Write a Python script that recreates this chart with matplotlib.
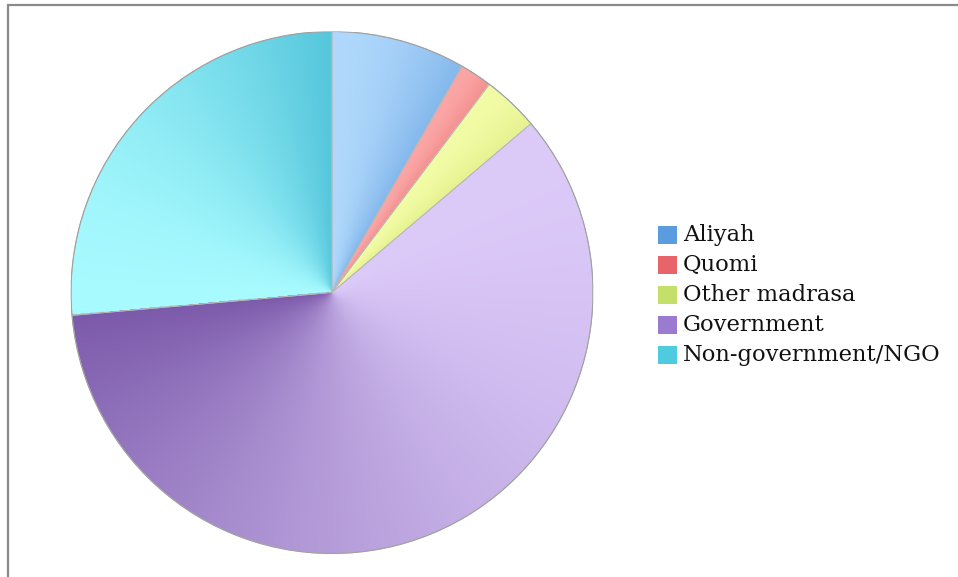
import numpy as np
import matplotlib
matplotlib.use("Agg")
from matplotlib import pyplot as plt
from matplotlib import colors as clrs
from matplotlib.patches import Rectangle, Circle

labels = ["Aliyah", "Quomi", "Other madrasa", "Government", "Non-government/NGO"]
shares = [8.3, 2.0, 3.5, 59.8, 26.4]
light = ["#b0d8fc", "#fba6a6", "#f2fca6", "#dccaf9", "#a8fbff"]
dark = ["#84b8ec", "#f49090", "#e6f290", "#7c5aab", "#55c6dc"]
legend_cols = ["#5b9be0", "#e8646a", "#c4e06a", "#9a7bd0", "#4fcbe0"]

fig = plt.figure(figsize=(9.58, 5.77), dpi=100)
W, H = 958, 577

# frame line on top and left (picture is cropped)
fig.patches.append(Rectangle((8 / W, -0.1), 1.2, 1 - 5 / H + 0.1, transform=fig.transFigure,
                             fill=False, edgecolor="#8a8a8a", linewidth=1.6))

cx, cy, r = 332, 292.5, 261
ax = fig.add_axes([(cx - r) / W, 1 - (cy + r) / H, 2 * r / W, 2 * r / H])
ax.axis("off")

wedges, _ = ax.pie(shares, startangle=90, counterclock=False, radius=1,
                   colors=light, wedgeprops=dict(linewidth=0.6, edgecolor="#b8b8b8"))
ax.set_xlim(-1, 1)
ax.set_ylim(-1, 1)

# conic gradient inside each slice: light at its start, darker at its end
n = 600
xs = np.linspace(-1, 1, n)
X, Y = np.meshgrid(xs, xs[::-1])
theta = np.degrees(np.arctan2(X, Y)) % 360
bounds = np.concatenate([[0], np.cumsum(shares) / sum(shares) * 360])
img = np.ones((n, n, 3))
for i in range(len(shares)):
    a0, a1 = bounds[i], bounds[i + 1]
    m = (theta >= a0) & (theta < a1)
    t = np.clip((theta - a0) / (a1 - a0), 0, 1)
    t = t ** 1.8
    c0 = np.array(clrs.to_rgb(light[i]))
    c1 = np.array(clrs.to_rgb(dark[i]))
    img[m] = c0 + (c1 - c0) * t[m][:, None]
im = ax.imshow(img, extent=(-1, 1, -1, 1), zorder=1.5, interpolation="bilinear")
im.set_clip_path(Circle((0, 0), 1, transform=ax.transData))
for w in wedges:
    w.set_facecolor("none")
    w.set_zorder(2)
ax.add_patch(Circle((0, 0), 1, fill=False, edgecolor="#a0a0a0", linewidth=0.8, zorder=3))

# legend
y0 = 235
for i, lab in enumerate(labels):
    yy = y0 + i * 30
    fig.patches.append(Rectangle((658 / W, 1 - (yy + 9) / H), 19 / W, 18 / H,
                                 transform=fig.transFigure, facecolor=legend_cols[i],
                                 edgecolor="none"))
    fig.text(683 / W, 1 - yy / H, lab, fontsize=16.3, family="DejaVu Serif",
             va="center", ha="left", color="#111111")

fig.savefig("out.png", dpi=100)
